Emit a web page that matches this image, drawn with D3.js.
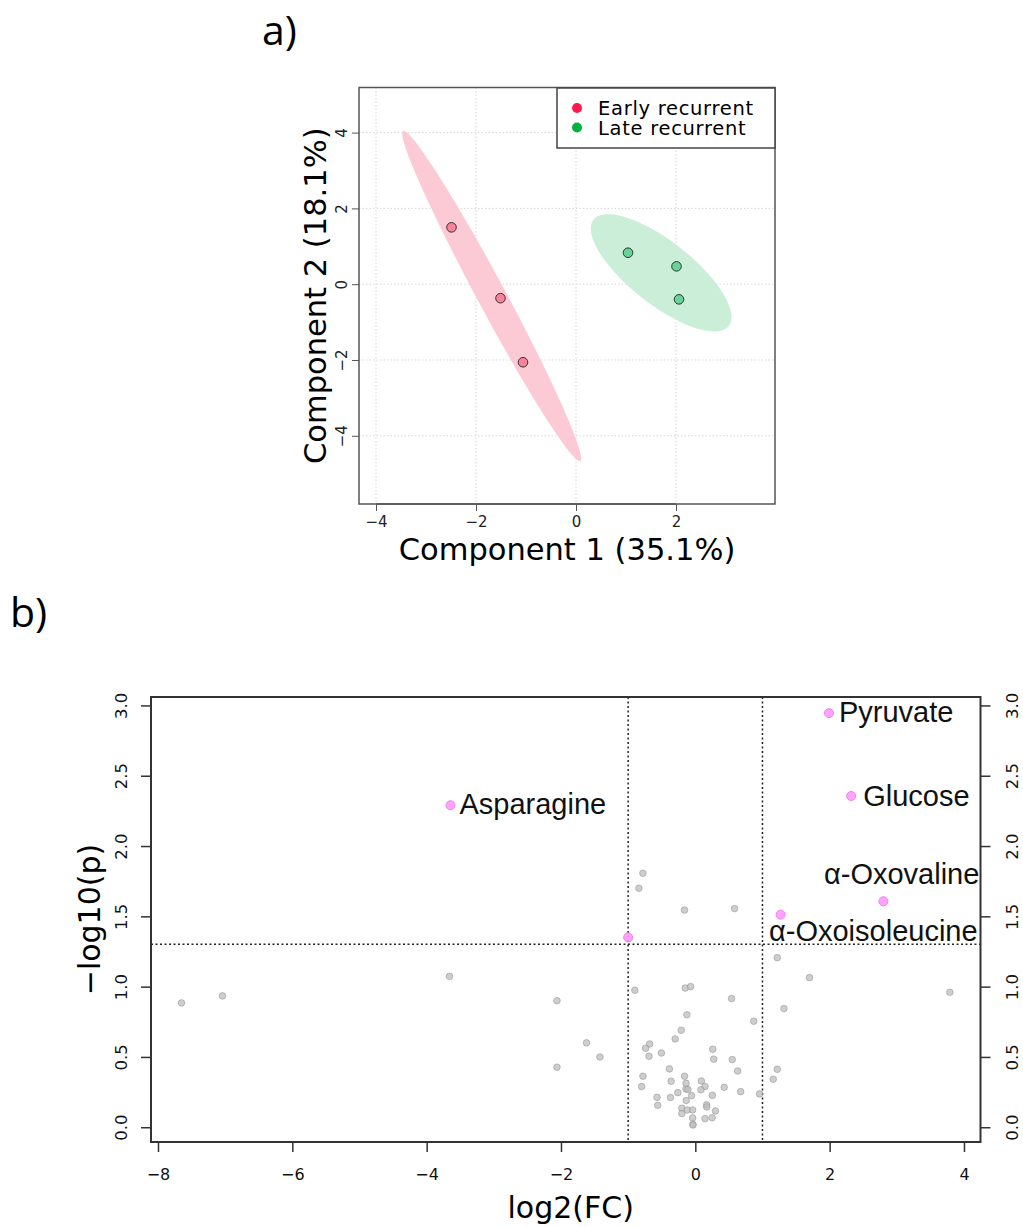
<!DOCTYPE html>
<html>
<head>
<meta charset="utf-8">
<script src="https://cdn.jsdelivr.net/npm/d3@7"></script>
<style>
  body { margin: 0; background: #fff; }
</style>
</head>
<body>
<div id="container"></div>
<script>
// ---------- panel a: PLS-DA style score plot ----------
const pcaGroups = ["Early recurrent", "Late recurrent"];
const earlyPC1 = [-2.49, -1.51, -1.06];
const earlyPC2 = [1.50, -0.37, -2.06];
const latePC1 = [1.04, 2.01, 2.06];
const latePC2 = [0.83, 0.47, -0.40];
const pcaXTicks = [-4, -2, 0, 2];
const pcaYTicks = [-4, -2, 0, 2, 4];
const pcaXLabel = "Component 1 (35.1%)";
const pcaYLabel = "Component 2 (18.1%)";

// ---------- panel b: volcano plot ----------
// not significant features: log2(FC) and -log10(p)
const grayFC = [-7.65, -7.04, -3.66, -2.06, -2.06, -1.62, -1.42,
  -0.78, -0.84, -0.16, 0.585,
  1.22, 1.70, 3.79, 1.32, 0.87, 1.22, 1.16, 0.957, 0.675,
  -0.90, -0.15, -0.07, 0.54, -0.125, -0.21, -0.30, -0.68, -0.74, 0.26,
  -0.505, -0.69, 0.275, 0.55, -0.386, 0.63, -0.78, -0.16, -0.36, 0.09,
  -0.138, -0.80, 0.144, -0.14, -0.11, 0.084, 0.43, -0.26, -0.055, 0.255,
  -0.57, -0.37, -0.135, -0.56, 0.168, 0.17, -0.20, -0.12, -0.04, 0.30,
  -0.20, -0.04, 0.144, 0.25, -0.035, -0.035];
const grayP = [0.884, 0.934, 1.073, 0.90, 0.427, 0.60, 0.50,
  1.806, 1.70, 1.545, 1.555,
  1.206, 1.064, 0.96, 0.844, 0.754, 0.412, 0.341, 0.237, 0.253,
  0.974, 0.99, 1.0, 0.915, 0.80, 0.69, 0.628, 0.592, 0.562, 0.555,
  0.528, 0.505, 0.484, 0.481, 0.415, 0.40, 0.363, 0.363, 0.327, 0.329,
  0.313, 0.289, 0.29, 0.272, 0.268, 0.266, 0.284, 0.246, 0.225, 0.227,
  0.213, 0.211, 0.19, 0.156, 0.159, 0.144, 0.135, 0.123, 0.123, 0.116,
  0.097, 0.066, 0.061, 0.068, 0.02, 0.016];
// significant features
const hitNames = ["Pyruvate", "Glucose", "α-Oxovaline", "α-Oxoisoleucine", "Asparagine", ""];
const hitFC = [1.99, 2.32, 2.80, 1.27, -3.645, -1.0];
const hitP = [2.945, 2.356, 1.607, 1.512, 2.29, 1.35];
const volXTicks = [-8, -6, -4, -2, 0, 2, 4];
const volYTicks = [0, 0.5, 1, 1.5, 2, 2.5, 3];
const fcCut = [-1, 1];
const pCut = 1.30103;  // -log10(0.05)

// label placement (px offsets from the point)
const hitLabelPos = [
  { anchor: "start", dx: 10, dy: 9 },
  { anchor: "start", dx: 12, dy: 10 },
  { anchor: "end", dx: 96, dy: -17 },
  { anchor: "end", dx: 197, dy: 26 },
  { anchor: "start", dx: 9, dy: 9 },
  null
];

const W = 1023, H = 1227;
const svg = d3.select("#container").append("svg")
  .attr("width", W).attr("height", H)
  .style("font-family", "'DejaVu Sans', sans-serif");

const earlyCol = "#ff1a4e", lateCol = "#00b33f";

//////////////////// PANEL A ////////////////////
const A = { left: 359, right: 775, top: 87.5, bottom: 504 };
const ax = d3.scaleLinear().domain([-4.34, 3.98]).range([A.left, A.right]);
const ay = d3.scaleLinear().domain([-5.8, 5.19]).range([A.bottom, A.top]);

svg.append("text").attr("x", 262).attr("y", 45)
  .style("font-family", "'Open Sans', sans-serif").attr("font-size", 41)
  .text("a)");

const ga = svg.append("g");

// dotted grid
ga.append("g").selectAll("line").data(pcaXTicks).join("line")
  .attr("x1", d => ax(d)).attr("x2", d => ax(d))
  .attr("y1", A.top).attr("y2", A.bottom)
  .attr("stroke", "#d6d6d6").attr("stroke-dasharray", "1.5,2");
ga.append("g").selectAll("line").data(pcaYTicks).join("line")
  .attr("y1", d => ay(d)).attr("y2", d => ay(d))
  .attr("x1", A.left).attr("x2", A.right)
  .attr("stroke", "#d6d6d6").attr("stroke-dasharray", "1.5,2");

// 95% confidence ellipse (as in the ellipse package)
const confEllipse = (xs, ys) => {
  const cx = d3.mean(xs), cy = d3.mean(ys);
  const sx = d3.deviation(xs), sy = d3.deviation(ys);
  const cov = d3.sum(xs, (x, i) => (x - cx) * (ys[i] - cy)) / (xs.length - 1);
  const d = Math.acos(cov / (sx * sy));
  const t = Math.sqrt(-2 * Math.log(0.05));
  return d3.range(0, 101).map(k => {
    const a = 2 * Math.PI * k / 100;
    return [cx + t * sx * Math.cos(a + d / 2), cy + t * sy * Math.cos(a - d / 2)];
  });
};
const ellLine = d3.line().x(d => ax(d[0])).y(d => ay(d[1]));

const groups = [
  { name: pcaGroups[0], xs: earlyPC1, ys: earlyPC2, col: earlyCol, ell: "#fccad4", pt: "#f9819e" },
  { name: pcaGroups[1], xs: latePC1, ys: latePC2, col: lateCol, ell: "#caeed7", pt: "#66d496" }
];

groups.forEach(g => {
  ga.append("path").attr("d", ellLine(confEllipse(g.xs, g.ys)))
    .attr("fill", g.ell).attr("stroke", "none");
});
groups.forEach(g => {
  ga.append("g").selectAll("circle").data(g.xs).join("circle")
    .attr("cx", d => ax(d)).attr("cy", (d, i) => ay(g.ys[i]))
    .attr("r", 4.8).attr("fill", g.pt).attr("stroke", "#333").attr("stroke-width", 1);
});

ga.append("rect").attr("x", A.left).attr("y", A.top)
  .attr("width", A.right - A.left).attr("height", A.bottom - A.top)
  .attr("fill", "none").attr("stroke", "#555").attr("stroke-width", 1.5);

// axes
const axA = ga.append("g").attr("transform", `translate(0,${A.bottom})`)
  .call(d3.axisBottom(ax).tickValues(pcaXTicks).tickSize(7).tickFormat(d3.format("d")));
axA.select(".domain").attr("stroke", "#555").attr("stroke-width", 1.5)
  .attr("d", `M${ax(-4)},0H${ax(2)}`);
axA.selectAll(".tick line").attr("stroke", "#555");
axA.selectAll(".tick text").attr("font-size", 15).attr("fill", "#222")
  .attr("font-family", "'DejaVu Sans', sans-serif").attr("y", 12);

const ayA = ga.append("g").attr("transform", `translate(${A.left},0)`)
  .call(d3.axisLeft(ay).tickValues(pcaYTicks).tickSize(7).tickFormat(d3.format("d")));
ayA.select(".domain").remove();
ayA.selectAll(".tick line").attr("stroke", "#555");
ayA.selectAll(".tick text").attr("font-size", 15).attr("fill", "#222")
  .attr("font-family", "'DejaVu Sans', sans-serif")
  .attr("transform", "rotate(-90)").attr("text-anchor", "middle")
  .attr("x", 0).attr("y", -12).attr("dy", 0);

svg.append("text").attr("x", (A.left + A.right) / 2).attr("y", 560)
  .attr("text-anchor", "middle").attr("font-size", 30.5).text(pcaXLabel);
svg.append("text")
  .attr("transform", `translate(326,${(A.top + A.bottom) / 2}) rotate(-90)`)
  .attr("text-anchor", "middle").attr("font-size", 30.5).text(pcaYLabel);

// legend
const lg = ga.append("g").attr("transform", `translate(${A.right - 218},${A.top + 0.5})`);
lg.append("rect").attr("width", 218).attr("height", 60)
  .attr("fill", "#fff").attr("stroke", "#444").attr("stroke-width", 1.5);
lg.selectAll("circle").data(groups).join("circle")
  .attr("cx", 20).attr("cy", (d, i) => 20 + i * 19.5).attr("r", 5)
  .attr("fill", d => d.col);
lg.selectAll("text").data(groups).join("text")
  .attr("x", 41).attr("y", (d, i) => 20 + i * 19.5).attr("dy", "0.36em")
  .attr("font-size", 19.5).attr("letter-spacing", 0.7).text(d => d.name);

//////////////////// PANEL B ////////////////////
const B = { left: 151, right: 980.5, top: 697, bottom: 1142 };
const bx = d3.scaleLinear().domain([-8.104, 4.246]).range([B.left, B.right]);
const by = d3.scaleLinear().domain([-0.105, 3.06]).range([B.bottom, B.top]);

svg.append("text").attr("x", 10).attr("y", 627)
  .style("font-family", "'Open Sans', sans-serif").attr("font-size", 41)
  .text("b)");

const gb = svg.append("g");

// threshold lines
gb.append("g").selectAll("line").data(fcCut).join("line")
  .attr("x1", d => bx(d)).attr("x2", d => bx(d))
  .attr("y1", B.top).attr("y2", B.bottom)
  .attr("stroke", "#222").attr("stroke-width", 1.5).attr("stroke-dasharray", "2,2.5");
gb.append("line")
  .attr("x1", B.left).attr("x2", B.right).attr("y1", by(pCut)).attr("y2", by(pCut))
  .attr("stroke", "#222").attr("stroke-width", 1.5).attr("stroke-dasharray", "2,2.5");

// points
gb.append("g").selectAll("circle").data(grayFC).join("circle")
  .attr("cx", d => bx(d)).attr("cy", (d, i) => by(grayP[i]))
  .attr("r", 3.3).attr("fill", "#bdbdbd").attr("fill-opacity", 0.75)
  .attr("stroke", "#9a9a9a").attr("stroke-opacity", 0.6).attr("stroke-width", 1);

gb.append("g").selectAll("circle").data(hitFC).join("circle")
  .attr("cx", d => bx(d)).attr("cy", (d, i) => by(hitP[i]))
  .attr("r", 4.5).attr("fill", "#ff99ff").attr("fill-opacity", 0.9)
  .attr("stroke", "#f27ef2").attr("stroke-width", 1);

gb.append("g").selectAll("text").data(hitNames).join("text")
  .filter(d => d !== "")
  .attr("x", (d, i) => bx(hitFC[i]) + hitLabelPos[i].dx)
  .attr("y", (d, i) => by(hitP[i]) + hitLabelPos[i].dy)
  .attr("text-anchor", (d, i) => hitLabelPos[i].anchor)
  .style("font-family", "'Liberation Sans', Arial, sans-serif")
  .attr("font-size", 29).attr("fill", "#111")
  .text(d => d);

gb.append("rect").attr("x", B.left).attr("y", B.top)
  .attr("width", B.right - B.left).attr("height", B.bottom - B.top)
  .attr("fill", "none").attr("stroke", "#333").attr("stroke-width", 2);

// axes
const bxA = gb.append("g").attr("transform", `translate(0,${B.bottom})`)
  .call(d3.axisBottom(bx).tickValues(volXTicks).tickSize(10).tickFormat(d3.format("d")));
bxA.select(".domain").attr("stroke", "#333").attr("stroke-width", 2)
  .attr("d", `M${bx(-8)},0H${bx(4)}`);
bxA.selectAll(".tick line").attr("stroke", "#333").attr("stroke-width", 1.5);
bxA.selectAll(".tick text").attr("font-size", 16).attr("fill", "#111")
  .attr("font-family", "'DejaVu Sans', sans-serif").attr("y", 27);

const yFmt = d3.format(".1f");
const byL = gb.append("g").attr("transform", `translate(${B.left},0)`)
  .call(d3.axisLeft(by).tickValues(volYTicks).tickSize(10).tickFormat(yFmt));
byL.select(".domain").remove();
byL.selectAll(".tick line").attr("stroke", "#333").attr("stroke-width", 1.5);
byL.selectAll(".tick text").attr("font-size", 16.5).attr("fill", "#111")
  .attr("font-family", "'DejaVu Sans', sans-serif")
  .attr("transform", "rotate(-90)").attr("text-anchor", "middle")
  .attr("x", 0).attr("y", -24).attr("dy", 0);

const byR = gb.append("g").attr("transform", `translate(${B.right},0)`)
  .call(d3.axisRight(by).tickValues(volYTicks).tickSize(10).tickFormat(yFmt));
byR.select(".domain").remove();
byR.selectAll(".tick line").attr("stroke", "#333").attr("stroke-width", 1.5);
byR.selectAll(".tick text").attr("font-size", 16.5).attr("fill", "#111")
  .attr("font-family", "'DejaVu Sans', sans-serif")
  .attr("transform", "rotate(-90)").attr("text-anchor", "middle")
  .attr("x", 0).attr("y", 37).attr("dy", 0);

svg.append("text").attr("x", (B.left + B.right) / 2 + 5).attr("y", 1218)
  .attr("text-anchor", "middle").attr("font-size", 30).text("log2(FC)");
svg.append("text")
  .attr("transform", `translate(100,${(B.top + B.bottom) / 2}) rotate(-90)`)
  .attr("text-anchor", "middle").attr("font-size", 30).text("\u2212log10(p)");
</script>
</body>
</html>
